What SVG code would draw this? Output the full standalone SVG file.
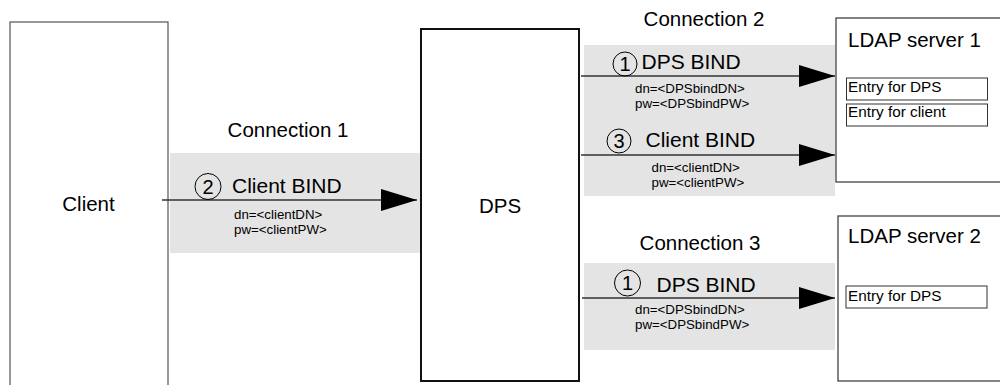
<svg xmlns="http://www.w3.org/2000/svg" width="1000" height="385" viewBox="0 0 1000 385">
<defs>
<style>
text{font-family:"Liberation Sans",Arial,sans-serif;fill:#000}
.band{fill:#e4e4e4;stroke:none}
.big{font-size:20.5px}
.step{font-size:21px}
.small{font-size:13.3px}
.entry{font-size:15.3px}
.num{font-size:20px;text-anchor:middle}
.circ{fill:none;stroke:#000;stroke-width:1}
.conn{stroke:#333;stroke-width:1.5;fill:none;marker-end:url(#ah)}
.box{fill:#fff;stroke:#333;stroke-width:1.2}
.ebox{fill:#fff;stroke:#333;stroke-width:1}
</style>
<marker id="ah" markerUnits="userSpaceOnUse" markerWidth="36" markerHeight="22" refX="36" refY="11" orient="auto" viewBox="0 0 36 22">
<path d="M0,0 L36,11 L0,22 z" fill="#000"/>
</marker>
</defs>
<rect width="1000" height="385" fill="#fff"/>

<g id="bands">
<rect class="band" x="170" y="153" width="251" height="100"/>
<rect class="band" x="584" y="45" width="251" height="151"/>
<rect class="band" x="584" y="263" width="251" height="87"/>
</g>

<g id="client">
<rect x="10" y="22" width="158" height="380" fill="#fff" stroke="#555" stroke-width="1.2"/>
<text class="big" x="88.5" y="211" text-anchor="middle">Client</text>
</g>

<g id="dps">
<rect x="421" y="29" width="158" height="352" fill="#fff" stroke="#111" stroke-width="2"/>
<text class="big" x="500" y="212.5" text-anchor="middle">DPS</text>
</g>

<g id="ldap1">
<rect class="box" x="836" y="18" width="170" height="164"/>
<text class="big" x="848" y="46.5">LDAP server 1</text>
<rect class="ebox" x="846.5" y="78" width="141" height="22"/>
<text class="entry" x="848" y="92">Entry for DPS</text>
<rect class="ebox" x="846.5" y="104" width="141" height="22"/>
<text class="entry" x="848" y="117">Entry for client</text>
</g>

<g id="ldap2">
<rect class="box" x="838" y="216" width="168" height="165"/>
<text class="big" x="848" y="242.5">LDAP server 2</text>
<rect class="ebox" x="846" y="286" width="141" height="22"/>
<text class="entry" x="848" y="300.5">Entry for DPS</text>
</g>

<g id="connectors">
<line class="conn" x1="162" y1="200" x2="417" y2="200"/>
<line class="conn" x1="581" y1="76" x2="835" y2="76"/>
<line class="conn" x1="581" y1="155" x2="835" y2="155"/>
<line class="conn" x1="582" y1="298" x2="835" y2="298"/>
</g>

<g id="label-conn1">
<text class="big" x="288" y="137" text-anchor="middle">Connection 1</text>
<circle class="circ" cx="208" cy="186.5" r="13"/>
<text class="num" x="208" y="193.5">2</text>
<text class="step" x="232" y="193">Client BIND</text>
<text class="small" x="234" y="218.5">dn=&lt;clientDN&gt;</text>
<text class="small" x="234" y="233.5">pw=&lt;clientPW&gt;</text>
</g>

<g id="label-conn2">
<text class="big" x="704" y="26" text-anchor="middle">Connection 2</text>
<circle class="circ" cx="625" cy="64" r="12"/>
<text class="num" x="625" y="71">1</text>
<text class="step" x="641.5" y="68.5">DPS BIND</text>
<text class="small" x="635" y="93">dn=&lt;DPSbindDN&gt;</text>
<text class="small" x="635" y="108">pw=&lt;DPSbindPW&gt;</text>
<circle class="circ" cx="619" cy="141" r="12"/>
<text class="num" x="619" y="148">3</text>
<text class="step" x="645.5" y="147">Client BIND</text>
<text class="small" x="651.5" y="172">dn=&lt;clientDN&gt;</text>
<text class="small" x="651.5" y="187">pw=&lt;clientPW&gt;</text>
</g>

<g id="label-conn3">
<text class="big" x="700" y="250" text-anchor="middle">Connection 3</text>
<circle class="circ" cx="627.5" cy="283" r="13"/>
<text class="num" x="627.5" y="290">1</text>
<text class="step" x="656.5" y="292">DPS BIND</text>
<text class="small" x="635" y="314">dn=&lt;DPSbindDN&gt;</text>
<text class="small" x="635" y="329">pw=&lt;DPSbindPW&gt;</text>
</g>
</svg>
